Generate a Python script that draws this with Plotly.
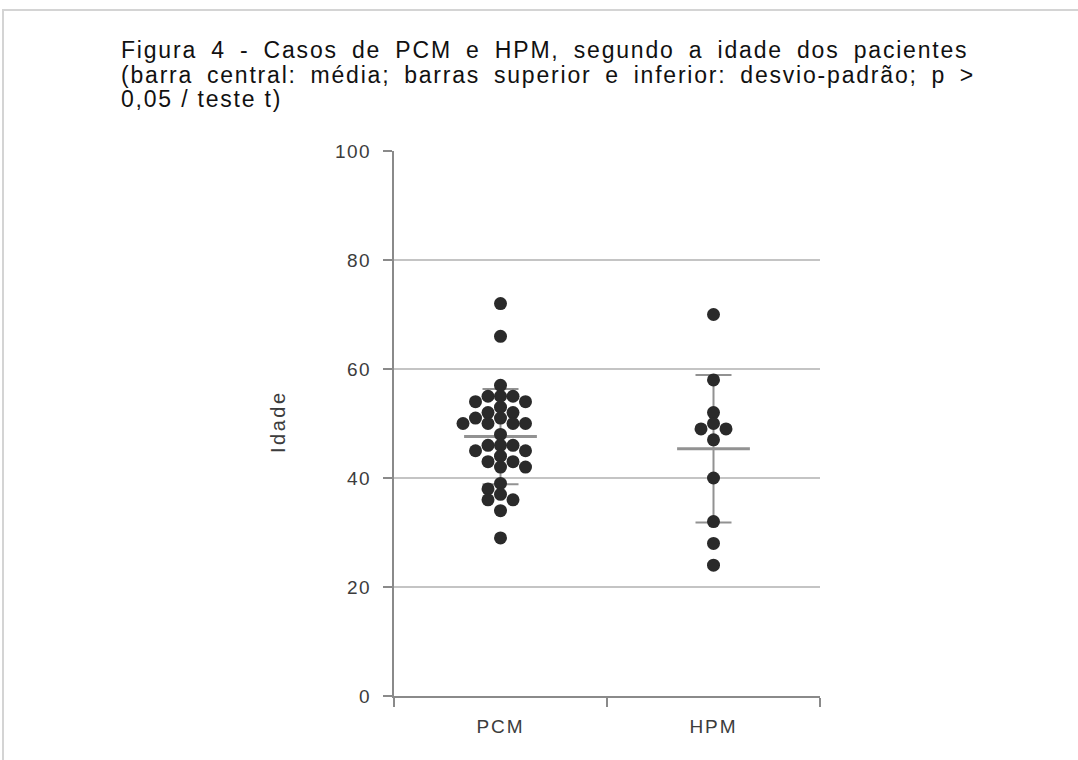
import plotly.graph_objects as go
import numpy as np

# ---------------- data ----------------
groups = ["PCM", "HPM"]
pcm_ages = [72, 66, 57, 55, 55, 55, 54, 54, 53, 52, 52, 51, 51, 50, 50, 50, 50,
            48, 46, 46, 46, 45, 45, 44, 43, 43, 42, 42, 39, 38, 37, 36, 36, 34, 29]
hpm_ages = [70, 58, 52, 50, 49, 49, 47, 40, 32, 28, 24]
y_tick_values = [0, 20, 40, 60, 80, 100]
y_tick_labels = ["0", "20", "40", "60", "80", "100"]
title_lines = [
    "Figura 4 - Casos de PCM e HPM, segundo a idade dos pacientes",
    "(barra central: média; barras superior e inferior: desvio-padrão; p >",
    "0,05 / teste t)",
]
y_title = "Idade"

# ---------------- layout geometry (pixels) ----------------
W, H = 1078, 760
ML, MR, MT, MB = 394, 258, 151, 64
plot_w = W - ML - MR
plot_h = H - MT - MB
x_range = [0, 2]
px_per_x = plot_w / (x_range[1] - x_range[0])
dot_d = 13
col_step = 12.5 / px_per_x

def px_to_paper_x(px):
    return (px - ML) / plot_w

def px_to_paper_y(py):
    return (H - MB - py) / plot_h

def swarm_columns(values, min_dy=2.0):
    order = sorted(range(len(values)), key=lambda i: -values[i])
    placed = {}
    cols = [0] * len(values)
    flip = 1
    for i in order:
        v = values[i]
        cands = [0]
        for k in range(1, 8):
            cands += [-k * flip, k * flip]
        for c in cands:
            if all(abs(v - u) >= min_dy for u in placed.get(c, [])):
                placed.setdefault(c, []).append(v)
                cols[i] = c
                if c != 0:
                    flip = -flip
                break
    return cols

def styled(text, css):
    return '<span style="%s">%s</span>' % (css, text)

DOT = "#2a2a2a"
STAT = "#929292"
GRID = "#c4c4c4"
AXIS = "#8a8a8a"
FONT = "Liberation Sans, Arial, sans-serif"

fig = go.Figure()

all_groups = [pcm_ages, hpm_ages]
for gi, vals in enumerate(all_groups):
    center = gi + 0.5
    arr = np.array(vals, dtype=float)
    mean = arr.mean()
    sd = arr.std(ddof=1)
    fig.add_trace(go.Scatter(
        x=[center], y=[mean], mode="markers",
        marker=dict(symbol="line-ew", size=52, line=dict(width=3, color=STAT), color=STAT),
        error_y=dict(type="data", array=[sd], symmetric=True, color=STAT,
                     thickness=2, width=18),
        showlegend=False, hoverinfo="skip",
    ))

for gi, vals in enumerate(all_groups):
    center = gi + 0.5
    cols = swarm_columns(vals)
    xs = [center + c * col_step for c in cols]
    fig.add_trace(go.Scatter(
        x=xs, y=vals, mode="markers",
        marker=dict(size=dot_d, color=DOT, line=dict(width=0)),
        showlegend=False, name=groups[gi],
    ))

# title: justified first two lines (extra word spacing), natural last line
title_css = [
    "font-size:23px;letter-spacing:1.8px;word-spacing:6.0px",
    "font-size:23px;letter-spacing:1.8px;word-spacing:5.6px",
    "font-size:23px;letter-spacing:1.8px",
]
title_text = "<br>".join(styled(t, c) for t, c in zip(title_lines, title_css))

annotations = [dict(
    text=title_text, xref="paper", yref="paper",
    x=px_to_paper_x(119), y=px_to_paper_y(35), align="left",
    xanchor="left", yanchor="top", showarrow=False,
    font=dict(family=FONT, size=19, color="#111111"),
)]
annotations.append(dict(
    text=styled(y_title, "letter-spacing:2.5px"), xref="paper", yref="paper",
    x=px_to_paper_x(278), y=px_to_paper_y(422), textangle=-90,
    xanchor="center", yanchor="middle", showarrow=False,
    font=dict(family=FONT, size=20, color="#3c3c3c"),
))

fig.update_layout(
    width=W, height=H,
    margin=dict(l=ML, r=MR, t=MT, b=MB, autoexpand=False),
    paper_bgcolor="white", plot_bgcolor="white",
    showlegend=False,
    annotations=annotations,
    shapes=[dict(type="rect", xref="paper", yref="paper",
                 x0=px_to_paper_x(3), x1=px_to_paper_x(W + 20),
                 y0=px_to_paper_y(H + 20), y1=px_to_paper_y(10),
                 line=dict(color="#d4d4d4", width=2), fillcolor="rgba(0,0,0,0)",
                 layer="below")],
)

fig.update_xaxes(
    range=x_range, showgrid=False, zeroline=False,
    showline=True, linecolor=AXIS, linewidth=2,
    tickmode="array", tickvals=[0.5, 1.5],
    ticktext=[styled(g, "letter-spacing:2px") for g in groups],
    ticks="outside", ticklen=12, tickcolor="rgba(0,0,0,0)",
    tickfont=dict(family=FONT, size=19, color="#3c3c3c"),
    minor=dict(tickmode="array", tickvals=[0, 1, 2], ticks="outside",
               ticklen=9, tickcolor=AXIS, tickwidth=2, showgrid=False),
    fixedrange=True,
)
fig.update_yaxes(
    range=[0, 100], showgrid=True, gridcolor=GRID, gridwidth=2,
    zeroline=False, showline=True, linecolor=AXIS, linewidth=2,
    tickmode="array", tickvals=y_tick_values,
    ticktext=[styled(t, "letter-spacing:1.5px") for t in y_tick_labels],
    ticks="outside", ticklen=9, tickcolor=AXIS, tickwidth=2,
    ticklabelstandoff=8,
    tickfont=dict(family=FONT, size=19, color="#3c3c3c"),
    fixedrange=True,
)

fig.write_html("out.html", config={"displayModeBar": False},
               post_script="document.body.style.margin='0';")
